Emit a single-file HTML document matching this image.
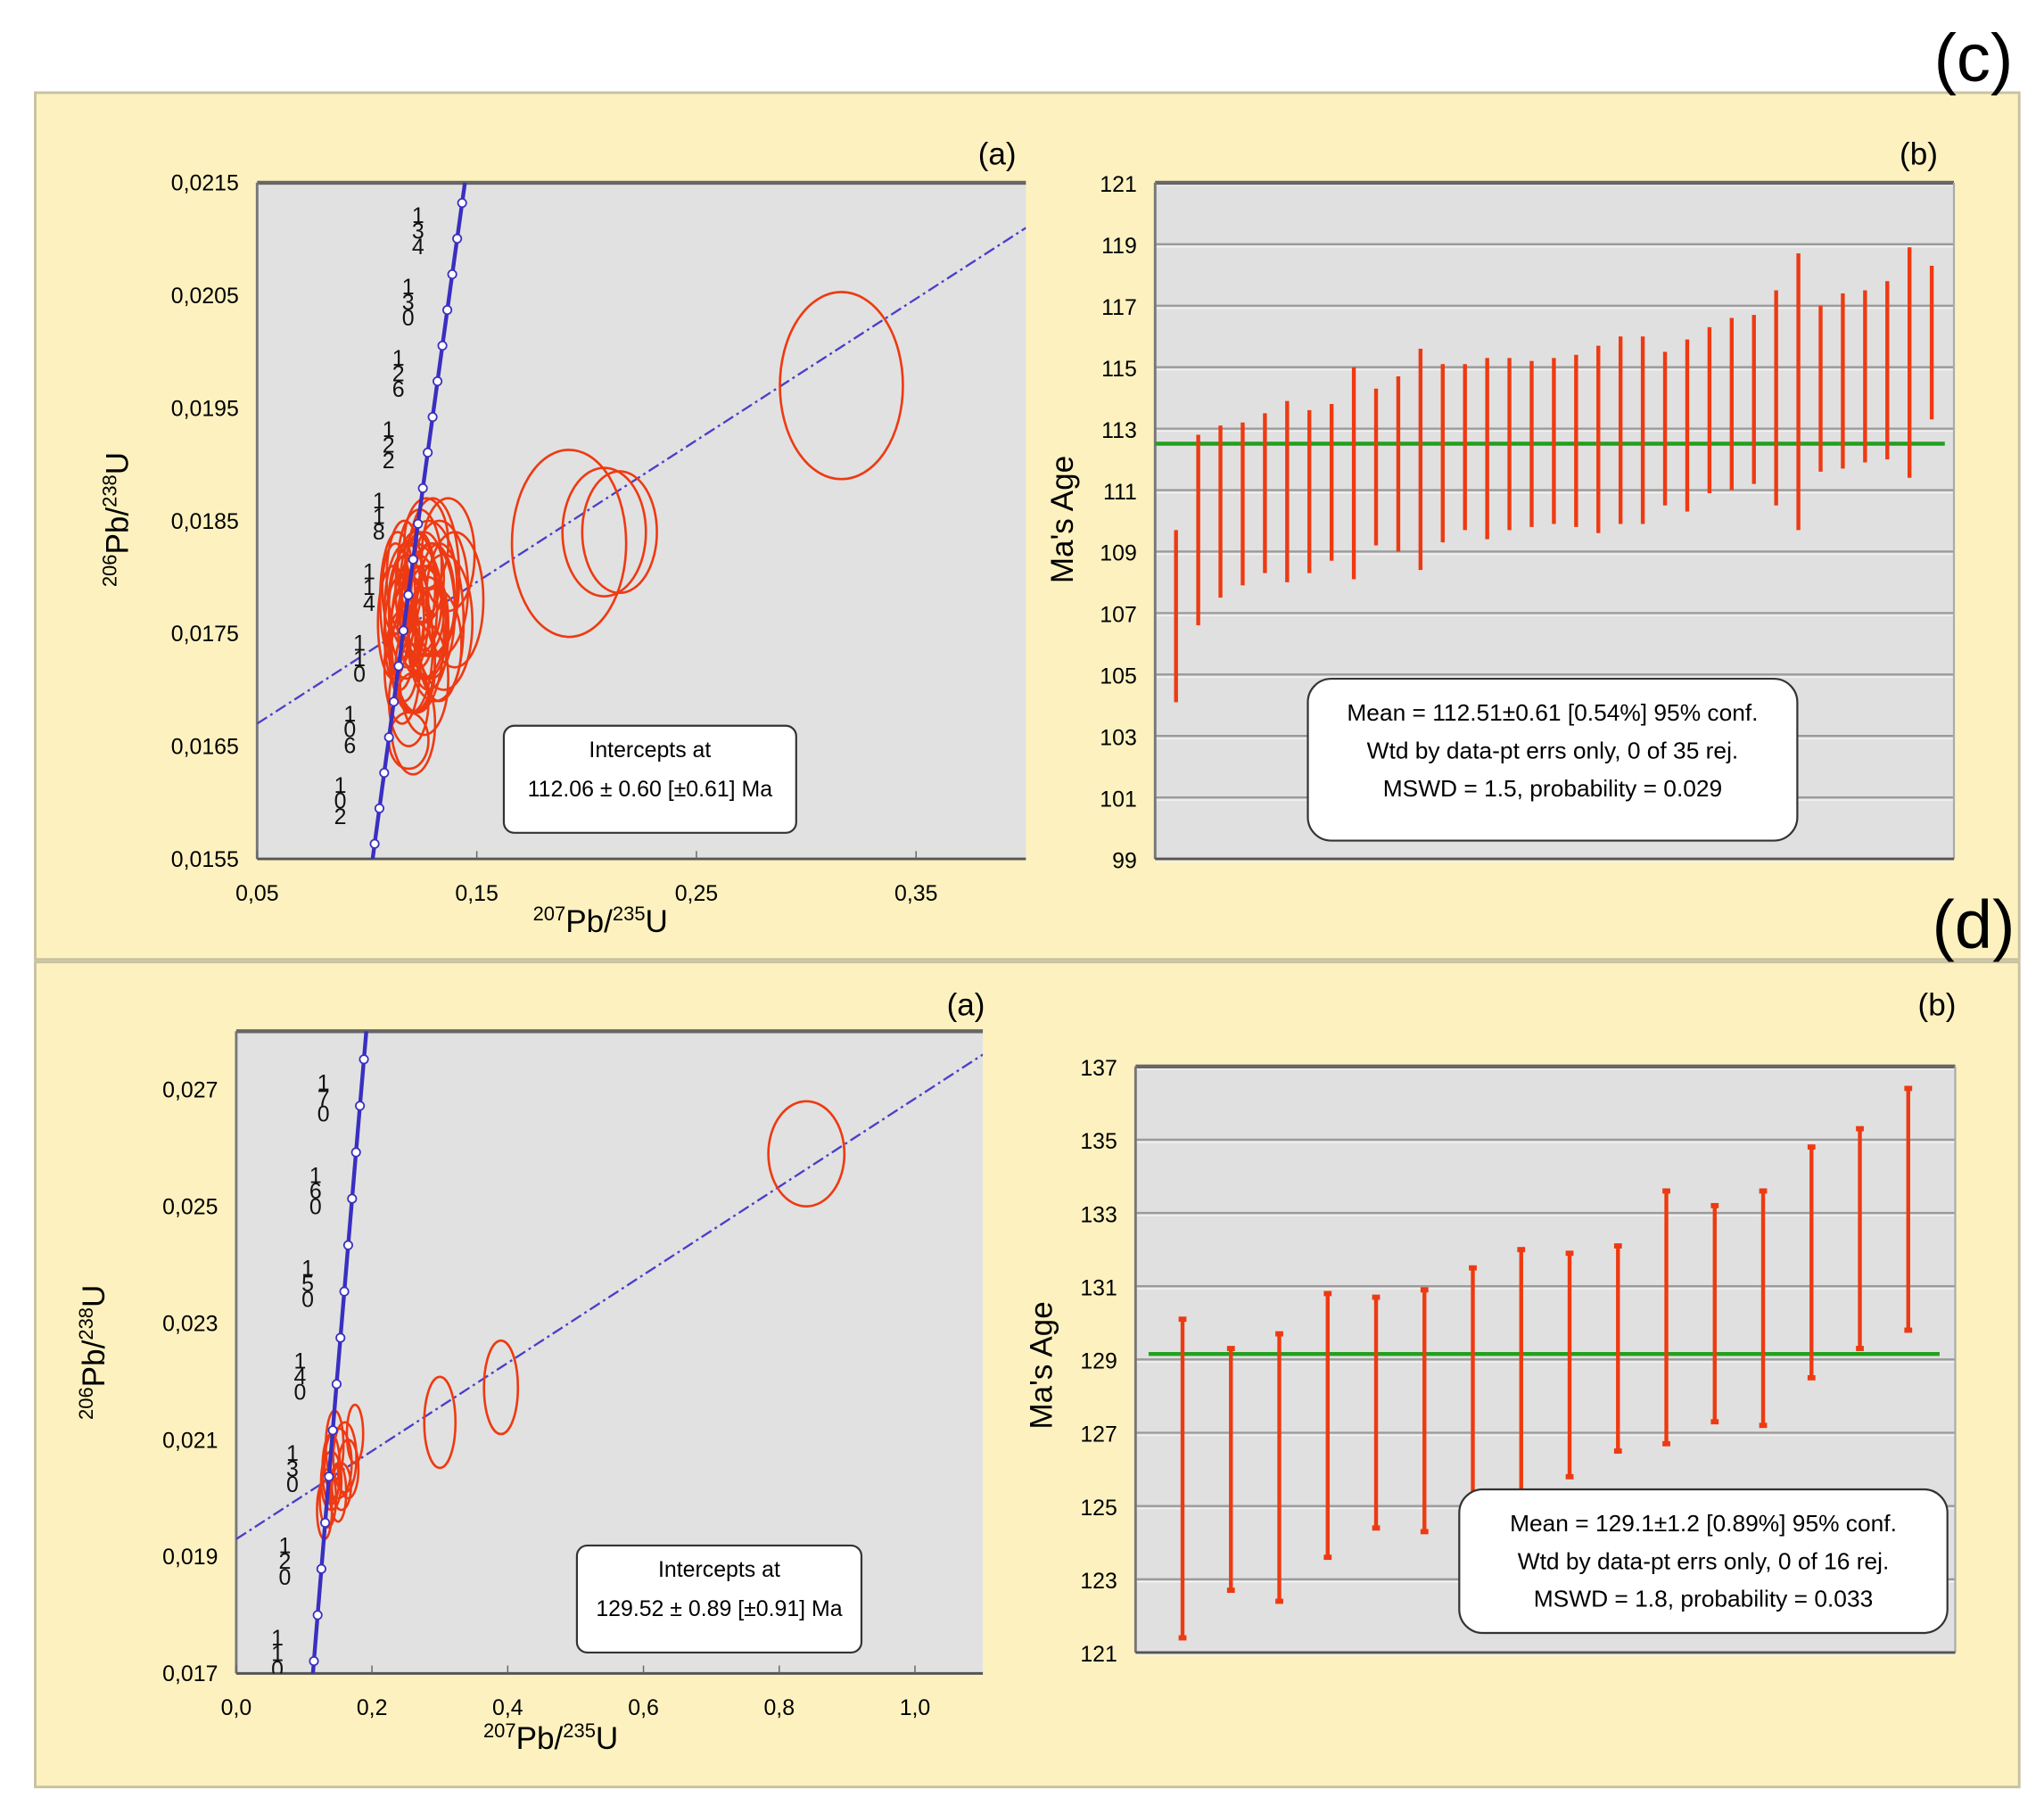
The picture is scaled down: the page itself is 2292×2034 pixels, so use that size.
<!DOCTYPE html>
<html><head><meta charset="utf-8"><style>
html,body{margin:0;padding:0;background:#fff}
svg{display:block;font-family:"Liberation Sans",sans-serif}
</style></head><body>
<svg id="fig" xmlns="http://www.w3.org/2000/svg" width="2292" height="2034" viewBox="0 0 1566 1389.7">
<rect x="0" y="0" width="1570" height="1395" fill="#ffffff"/>
<rect x="27" y="71" width="1520" height="664" fill="#fdf2bf" stroke="#c9c2a0" stroke-width="2"/>
<rect x="27" y="737" width="1520" height="632" fill="#fdf2bf" stroke="#c9c2a0" stroke-width="2"/>
<text x="1512" y="62" font-size="52" text-anchor="middle">(c)</text>
<text x="1512" y="726" font-size="52" text-anchor="middle">(d)</text>
<g id="layer"></g>
</svg>
<script>
// ---------- DATA ----------
const topAgeLow=[104.1,106.6,107.5,107.9,108.3,108.0,108.3,108.7,108.1,109.2,109.0,108.4,109.3,109.7,109.4,109.7,109.8,109.9,109.8,109.6,109.9,109.9,110.5,110.3,110.9,111.0,111.2,110.5,109.7,111.6,111.7,111.9,112.0,111.4,113.3];
const topAgeHigh=[109.7,112.8,113.1,113.2,113.5,113.9,113.6,113.8,115.0,114.3,114.7,115.6,115.1,115.1,115.3,115.3,115.2,115.3,115.4,115.7,116.0,116.0,115.5,115.9,116.3,116.6,116.7,117.5,118.7,117.0,117.4,117.5,117.8,118.9,118.3];
const topMean=[112.51];
const topAgeTicks=[99,101,103,105,107,109,111,113,115,117,119,121];
const botAgeLow=[121.4,122.7,122.4,123.6,124.4,124.3,125.2,125.4,125.8,126.5,126.7,127.3,127.2,128.5,129.3,129.8];
const botAgeHigh=[130.1,129.3,129.7,130.8,130.7,130.9,131.5,132.0,131.9,132.1,133.6,133.2,133.6,134.8,135.3,136.4];
const botMean=[129.15];
const botAgeTicks=[121,123,125,127,129,131,133,135,137];
const topXTicks=[0.05,0.15,0.25,0.35];
const topXLabels=["0,05","0,15","0,25","0,35"];
const topYTicks=[0.0155,0.0165,0.0175,0.0185,0.0195,0.0205,0.0215];
const topYLabels=["0,0155","0,0165","0,0175","0,0185","0,0195","0,0205","0,0215"];
const botXTicks=[0,0.2,0.4,0.6,0.8,1.0];
const botXLabels=["0,0","0,2","0,4","0,6","0,8","1,0"];
const botYTicks=[0.017,0.019,0.021,0.023,0.025,0.027];
const botYLabels=["0,017","0,019","0,021","0,023","0,025","0,027"];
// ellipses: x, y, sx, sy
const topEllX=[0.316,0.192,0.208,0.215,0.118,0.122,0.125,0.128,0.130,0.133,0.120,0.116,0.119,0.121,0.135,0.124,0.127,0.112,0.126,0.131,0.140,0.117,0.123,0.119,0.114,0.129,0.137,0.121,0.126,0.133,0.115,0.118,0.122,0.125,0.128,0.120,0.124,0.127,0.113,0.117,0.130,0.122];
const topEllY=[0.0197,0.0183,0.0184,0.0184,0.0177,0.0178,0.0176,0.0179,0.0180,0.0179,0.0174,0.0172,0.0169,0.0167,0.0176,0.0181,0.0183,0.0176,0.0171,0.0174,0.0178,0.0180,0.0175,0.01655,0.0178,0.0177,0.0182,0.0173,0.0180,0.0176,0.0175,0.0177,0.0179,0.0177,0.0175,0.0176,0.0178,0.0176,0.0179,0.0174,0.0178,0.0172];
const topEllSX=[0.028,0.026,0.019,0.017,0.010,0.012,0.011,0.013,0.012,0.013,0.010,0.008,0.009,0.010,0.013,0.010,0.010,0.007,0.011,0.012,0.013,0.008,0.012,0.009,0.008,0.011,0.012,0.010,0.009,0.011,0.007,0.008,0.009,0.010,0.009,0.006,0.008,0.010,0.006,0.007,0.010,0.009];
const topEllSY=[0.00083,0.00083,0.00057,0.00054,0.0006,0.0005,0.0005,0.0006,0.0007,0.0006,0.0006,0.0005,0.0004,0.00045,0.0006,0.0005,0.0004,0.0005,0.0005,0.0005,0.0006,0.0005,0.0007,0.00025,0.0006,0.0006,0.0005,0.0005,0.0004,0.0007,0.0005,0.0005,0.0005,0.0004,0.0005,0.0004,0.0006,0.0005,0.0004,0.0005,0.0005,0.0004];
const botEllX=[0.84,0.30,0.39,0.15,0.14,0.16,0.175,0.135,0.145,0.155,0.13,0.165,0.14,0.15];
const botEllY=[0.0259,0.0213,0.0219,0.0206,0.0203,0.0207,0.0211,0.0200,0.0209,0.0202,0.0198,0.0205,0.0205,0.0201];
const botEllSX=[0.056,0.023,0.025,0.02,0.015,0.017,0.012,0.012,0.013,0.014,0.011,0.015,0.013,0.012];
const botEllSY=[0.0009,0.00078,0.0008,0.0006,0.0005,0.0006,0.0005,0.0005,0.0006,0.0004,0.0005,0.0005,0.0006,0.0005];
const topDisc=[[0.05,0.0167],[0.40,0.0211]];
const botDisc=[[0.0,0.0193],[1.1,0.0276]];
const topConcMarks=[100,102,104,106,108,110,112,114,116,118,120,122,124,126,128,130,132,134,136];
const topConcLabels=[102,106,110,114,118,122,126,130,134];
const botConcMarks=[110,115,120,125,130,135,140,145,150,155,160,165,170,175];
const botConcLabels=[110,120,130,140,150,160,170];

// ---------- HELPERS ----------
const NS="http://www.w3.org/2000/svg";
const layer=document.getElementById('layer');
function mk(tag,attrs,parent){const e=document.createElementNS(NS,tag);for(const k in attrs)e.setAttribute(k,attrs[k]);(parent||layer).appendChild(e);return e;}
function txt(x,y,s,size,anchor,parent){const t=mk('text',{x:x,y:y,'font-size':size,'text-anchor':anchor||'middle'},parent);t.textContent=s;return t;}
function lin(d0,d1,r0,r1){return v=>r0+(v-d0)/(d1-d0)*(r1-r0);}
const L8=1.55125e-4, L5=9.8485e-4;
function c68(t){return Math.exp(L8*t)-1;}
function c75(t){return Math.exp(L5*t)-1;}

function concordiaPlot(o){
  const g=mk('g',{});
  
  
  const X=lin(o.xd[0],o.xd[1],o.px[0],o.px[1]), Y=lin(o.yd[0],o.yd[1],o.py[0],o.py[1]);
  const clipId=o.name+'-clip';
  const cp=mk('clipPath',{id:clipId},g);mk('rect',{x:o.px[0],y:o.py[1],width:o.px[1]-o.px[0],height:o.py[0]-o.py[1]},cp);
  const bg=mk('rect',{x:o.px[0],y:o.py[1],width:o.px[1]-o.px[0],height:o.py[0]-o.py[1],fill:'#e1e1e1'},g);
  
  mk('line',{x1:o.px[0],y1:o.py[1],x2:o.px[1],y2:o.py[1],stroke:'#666','stroke-width':3},g);
  mk('line',{x1:o.px[0],y1:o.py[1],x2:o.px[0],y2:o.py[0],stroke:'#777','stroke-width':2},g);
  mk('line',{x1:o.px[0],y1:o.py[0],x2:o.px[1],y2:o.py[0],stroke:'#555','stroke-width':2},g);
  const inner=mk('g',{'clip-path':'url(#'+clipId+')'},g);
  const dl=mk('line',{x1:X(o.disc[0][0]),y1:Y(o.disc[0][1]),x2:X(o.disc[1][0]),y2:Y(o.disc[1][1]),stroke:'#4a3fc8','stroke-width':1.6,'stroke-dasharray':'9 3 2 3'},inner);
  
  for(let i=0;i<o.ex.length;i++){
    const e=mk('ellipse',{cx:X(o.ex[i]),cy:Y(o.ey[i]),rx:Math.abs(X(o.ex[i]+o.esx[i])-X(o.ex[i])),ry:Math.abs(Y(o.ey[i]+o.esy[i])-Y(o.ey[i])),fill:'none',stroke:'#ee3a12','stroke-width':1.8},inner);
    
    
  }
  let d='';for(let t=o.tr[0];t<=o.tr[1];t+=0.5){d+=(d?'L':'M')+X(c75(t)).toFixed(2)+','+Y(c68(t)).toFixed(2);}
  const cc=mk('path',{d:d,fill:'none',stroke:'#3a2fc0','stroke-width':3},inner);
  
  o.marks.forEach(t=>{const c=mk('circle',{cx:X(c75(t)),cy:Y(c68(t)),r:3.2,fill:'#fff',stroke:'#3a2fc0','stroke-width':1.2},inner);
    });
  o.labels.forEach(t=>{const s=String(t);const x=X(c75(t))-o.lo, y=Y(c68(t));
    const lg=mk('text',{x:x,'font-size':17,'text-anchor':'middle',fill:'#111'},inner);
    
    for(let k=0;k<s.length;k++){const ts=mk('tspan',{x:x,y:y-12+k*12},lg);ts.textContent=s[k];}
  });
  o.xt.forEach((v,i)=>{mk('line',{x1:X(v),y1:o.py[0],x2:X(v),y2:o.py[0]-6,stroke:'#666'},g);
    const t=txt(X(v),o.py[0]+32,o.xl[i],17,'middle',g);});
  o.yt.forEach((v,i)=>{const t=txt(o.px[0]-14,Y(v)+6,o.yl[i],17,'end',g);});
  const xt=mk('text',{x:o.xtp[0],y:o.xtp[1],'font-size':24,'text-anchor':'middle'},g);
  
  xt.innerHTML='<tspan font-size="15" dy="-9">207</tspan><tspan dy="9">Pb/</tspan><tspan font-size="15" dy="-9">235</tspan><tspan dy="9">U</tspan>';
  const yt=mk('text',{x:0,y:0,'font-size':24,'text-anchor':'middle',transform:'translate('+o.ytp[0]+','+o.ytp[1]+') rotate(-90)'},g);
  
  yt.innerHTML='<tspan font-size="15" dy="-9">206</tspan><tspan dy="9">Pb/</tspan><tspan font-size="15" dy="-9">238</tspan><tspan dy="9">U</tspan>';
  const pl=txt(o.sub[0],o.sub[1],'(a)',24,'middle',g);
  const b=o.box;const br=mk('rect',{x:b[0],y:b[1],width:b[2],height:b[3],rx:8,fill:'#fff',stroke:'#333','stroke-width':1.5},g);
  
  txt(b[0]+b[2]/2,b[1]+24,'Intercepts at',17,'middle',g);
  txt(b[0]+b[2]/2,b[1]+54,o.boxText,17,'middle',g);
}

function agePlot(o){
  const g=mk('g',{});
  
  
  const Y=lin(o.yd[0],o.yd[1],o.py[0],o.py[1]);
  const bg=mk('rect',{x:o.px[0],y:o.py[1],width:o.px[1]-o.px[0],height:o.py[0]-o.py[1],fill:'#e0e0e0'},g);
  
  o.ticks.forEach(v=>{mk('line',{x1:o.px[0],y1:Y(v),x2:o.px[1],y2:Y(v),stroke:'#9a9a9a','stroke-width':1.6},g);
    mk('line',{x1:o.px[0],y1:Y(v)+2,x2:o.px[1],y2:Y(v)+2,stroke:'#f2f2f2','stroke-width':1},g);
    const t=txt(o.px[0]-14,Y(v)+7,String(v),17,'end',g);});
  mk('line',{x1:o.px[0],y1:o.py[1],x2:o.px[1],y2:o.py[1],stroke:'#666','stroke-width':3},g);
  mk('line',{x1:o.px[0],y1:o.py[1],x2:o.px[0],y2:o.py[0],stroke:'#777','stroke-width':2},g);
  mk('line',{x1:o.px[1],y1:o.py[1],x2:o.px[1],y2:o.py[0],stroke:'#aaa','stroke-width':1.5},g);
  mk('line',{x1:o.px[0],y1:o.py[0],x2:o.px[1],y2:o.py[0],stroke:'#555','stroke-width':2},g);
  const n=o.lo.length;
  const X=i=>o.bx[0]+i*(o.bx[1]-o.bx[0])/(n-1);
  const ml=mk('line',{x1:o.ml[0],y1:Y(o.mean[0]),x2:o.ml[1],y2:Y(o.mean[0]),stroke:'#22a01e','stroke-width':3},g);
  
  for(let i=0;i<n;i++){
    const b=mk('line',{x1:X(i),y1:Y(o.lo[i]),x2:X(i),y2:Y(o.hi[i]),stroke:'#ee3a12','stroke-width':3},g);
    
    
    if(o.caps){mk('rect',{x:X(i)-3,y:Y(o.lo[i])-2,width:6,height:4,fill:'#ee3a12'},g);mk('rect',{x:X(i)-3,y:Y(o.hi[i])-2,width:6,height:4,fill:'#ee3a12'},g);}
  }
  const yt=mk('text',{x:0,y:0,'font-size':24,'text-anchor':'middle',transform:'translate('+o.ytp[0]+','+o.ytp[1]+') rotate(-90)'},g);
  yt.textContent="Ma's Age";
  const pl=txt(o.sub[0],o.sub[1],'(b)',24,'middle',g);
  const b=o.box;const br=mk('rect',{x:b[0],y:b[1],width:b[2],height:b[3],rx:18,fill:'#fff',stroke:'#333','stroke-width':1.5},g);
  
  o.boxLines.forEach((s,k)=>txt(b[0]+b[2]/2,b[1]+32+k*29,s,18,'middle',g));
}

concordiaPlot({name:'concordia-c',xd:[0.05,0.40],px:[197,786],yd:[0.0155,0.0215],py:[658,140],
  disc:topDisc,ex:topEllX,ey:topEllY,esx:topEllSX,esy:topEllSY,tr:[95,145],marks:topConcMarks,labels:topConcLabels,lo:30,
  xt:topXTicks,xl:topXLabels,yt:topYTicks,yl:topYLabels,xtp:[460,714],ytp:[98,398],sub:[764,126],
  box:[386,556,224,82],boxText:'112.06 ± 0.60 [±0.61]  Ma'});
agePlot({name:'age-plot-c',yd:[99,121],py:[658,140],px:[885,1497],ticks:topAgeTicks,lo:topAgeLow,hi:topAgeHigh,bx:[901,1480],
  mean:topMean,ml:[885,1490],caps:false,ytp:[822,398],sub:[1470,126],
  box:[1002,520,375,124],boxLines:['Mean = 112.51±0.61  [0.54%]  95% conf.','Wtd by data-pt errs only, 0 of 35 rej.','MSWD = 1.5, probability = 0.029']});
concordiaPlot({name:'concordia-d',xd:[0,1.1],px:[181,753],yd:[0.017,0.028],py:[1282,790],
  disc:botDisc,ex:botEllX,ey:botEllY,esx:botEllSX,esy:botEllSY,tr:[105,180],marks:botConcMarks,labels:botConcLabels,lo:28,
  xt:botXTicks,xl:botXLabels,yt:botYTicks,yl:botYLabels,xtp:[422,1340],ytp:[80,1036],sub:[740,778],
  box:[442,1184,218,82],boxText:'129.52 ± 0.89 [±0.91]  Ma'});
agePlot({name:'age-plot-d',yd:[121,137],py:[1266,817],px:[870,1498],ticks:botAgeTicks,lo:botAgeLow,hi:botAgeHigh,bx:[906,1462],
  mean:botMean,ml:[880,1486],caps:true,ytp:[806,1046],sub:[1484,778],
  box:[1118,1141,374,110],boxLines:['Mean = 129.1±1.2  [0.89%]  95% conf.','Wtd by data-pt errs only, 0 of 16 rej.','MSWD = 1.8, probability = 0.033']});
</script>
</body></html>
